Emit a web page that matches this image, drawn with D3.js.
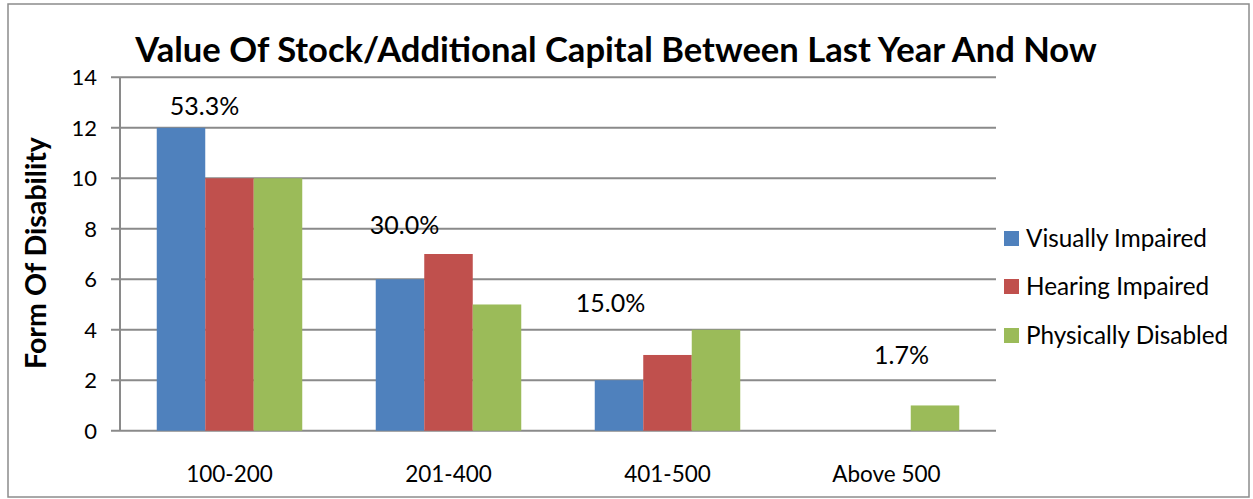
<!DOCTYPE html>
<html><head><meta charset="utf-8">
<script src="https://cdn.jsdelivr.net/npm/d3@7"></script>
<style>body{margin:0;background:#fff;} svg{display:block;font-family:Lato,"Open Sans",sans-serif;}</style>
</head><body>
<svg id="c" width="1253" height="499"></svg>
<script>
const categories = ["100-200", "201-400", "401-500", "Above 500"];
const seriesNames = ["Visually Impaired", "Hearing Impaired", "Physically Disabled"];
const visuallyImpaired = [12, 6, 2, 0];
const hearingImpaired = [10, 7, 3, 0];
const physicallyDisabled = [10, 5, 4, 1];
const percentLabels = ["53.3%", "30.0%", "15.0%", "1.7%"];
const yTicks = [0, 2, 4, 6, 8, 10, 12, 14];
const colors = ["#4F81BD", "#C0504D", "#9BBB59"];
// label placement (layout): x offset from group centre (px), y anchor in data units
const labelDx = [-25, -44, -57, 15];
const labelY = [12.86, 8.14, 5.05, 3.0];

const values = [visuallyImpaired, hearingImpaired, physicallyDisabled];
const svg = d3.select("#c");
const plot = {left: 120, right: 996, top: 77.3, bottom: 430.7};

svg.append("rect").attr("x", 8).attr("y", 4).attr("width", 1241).attr("height", 493)
  .attr("fill", "#fff").attr("stroke", "#8c8c8c").attr("stroke-width", 1.5);

const x = d3.scaleBand().domain(categories).range([plot.left, plot.right])
  .paddingInner(0.3356).paddingOuter(0.1678);
const xs = d3.scaleBand().domain(seriesNames).range([0, x.bandwidth()]);
const y = d3.scaleLinear().domain([0, 14]).range([plot.bottom, plot.top]);

// gridlines
svg.append("g").selectAll("line").data(yTicks).join("line")
  .attr("x1", plot.left - 9).attr("x2", plot.right)
  .attr("y1", d => y(d)).attr("y2", d => y(d))
  .attr("stroke", "#8a8a8a").attr("stroke-width", 2);
svg.append("line").attr("x1", plot.left).attr("x2", plot.left)
  .attr("y1", plot.top).attr("y2", plot.bottom)
  .attr("stroke", "#8a8a8a").attr("stroke-width", 2);

// bars
const g = svg.append("g");
categories.forEach((c, i) => {
  seriesNames.forEach((s, j) => {
    const v = values[j][i];
    if (v > 0) {
      g.append("rect").attr("x", x(c) + xs(s)).attr("width", xs.bandwidth())
        .attr("y", y(v)).attr("height", y(0) - y(v)).attr("fill", colors[j]);
    }
  });
});

// y tick labels
svg.append("g").selectAll("text").data(yTicks).join("text")
  .attr("x", 97).attr("y", d => y(d)).attr("dy", "0.36em")
  .attr("text-anchor", "end").attr("font-size", 22).attr("fill", "#000").text(d => d);

// x category labels
svg.append("g").selectAll("text").data(categories).join("text")
  .attr("x", d => x(d) + x.bandwidth() / 2).attr("y", 474).attr("dy", "0.36em")
  .attr("text-anchor", "middle").attr("font-size", 22.5).attr("fill", "#000").text(d => d);

// percent labels
svg.append("g").selectAll("text").data(percentLabels).join("text")
  .attr("x", (d, i) => x(categories[i]) + x.bandwidth() / 2 + labelDx[i])
  .attr("y", (d, i) => y(labelY[i])).attr("dy", "0.36em")
  .attr("text-anchor", "middle").attr("font-size", 25).attr("fill", "#000").text(d => d);

// title
svg.append("text").attr("x", 616).attr("y", 62).attr("text-anchor", "middle")
  .attr("font-size", 34.6).attr("font-weight", "bold").attr("fill", "#000")
  .text("Value Of Stock/Additional Capital Between Last Year And Now");

// y axis title
svg.append("text").attr("transform", "translate(46,253) rotate(-90)")
  .attr("text-anchor", "middle").attr("font-size", 28.6).attr("font-weight", "bold").attr("fill", "#000")
  .text("Form Of Disability");

// legend
const legendY = [238, 286, 335];
const lg = svg.append("g");
seriesNames.forEach((s, j) => {
  lg.append("rect").attr("x", 1004).attr("y", legendY[j] - 7).attr("width", 15).attr("height", 15).attr("fill", colors[j]);
  lg.append("text").attr("x", 1026).attr("y", legendY[j]).attr("dy", "0.36em")
    .attr("font-size", 24.3).attr("fill", "#000").text(s);
});
</script>
</body></html>
